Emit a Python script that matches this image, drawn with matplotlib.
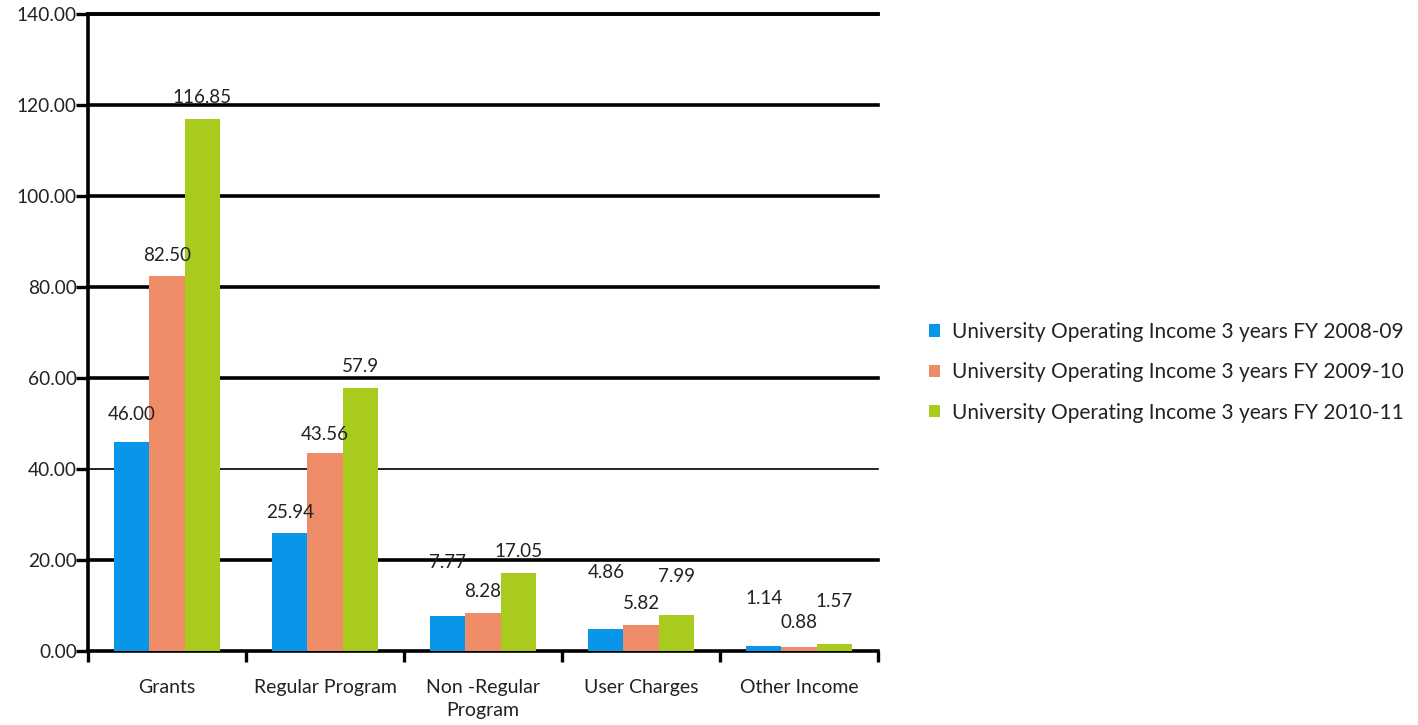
import matplotlib
matplotlib.use("Agg")
import matplotlib.pyplot as plt
import numpy as np

categories = ["Grants", "Regular Program", "Non -Regular\nProgram", "User Charges", "Other Income"]
series_names = [
    "University Operating Income 3 years FY 2008-09",
    "University Operating Income 3 years FY 2009-10",
    "University Operating Income 3 years FY 2010-11",
]
fy2008_09 = [46.00, 25.94, 7.77, 4.86, 1.14]
fy2009_10 = [82.50, 43.56, 8.28, 5.82, 0.88]
fy2010_11 = [116.85, 57.9, 17.05, 7.99, 1.57]
label_text_2008_09 = ["46.00", "25.94", "7.77", "4.86", "1.14"]
label_text_2009_10 = ["82.50", "43.56", "8.28", "5.82", "0.88"]
label_text_2010_11 = ["116.85", "57.9", "17.05", "7.99", "1.57"]
y_ticks = [0, 20, 40, 60, 80, 100, 120, 140]

# style: label vertical lift (data units) as in the original layout
lift_2008_09 = [5.9, 4.6, 11.6, 12.3, 10.5]
lift_2009_10 = [4.5, 4.1, 4.9, 4.7, 5.3]
lift_2010_11 = [4.9, 4.7, 4.9, 8.3, 9.2]

colors = ["#0A96E8", "#EE8C68", "#A9CB1E"]
FONT = ["Lato", "DejaVu Sans"]
plt.rcParams["font.family"] = FONT

fig = plt.figure(figsize=(14.18, 7.25), dpi=100)
ax = fig.add_axes([88 / 1418, 1 - 651 / 725, (878 - 88) / 1418, (651 - 14) / 725])

x = np.arange(len(categories))
w = 0.222
all_vals = [fy2008_09, fy2009_10, fy2010_11]
all_text = [label_text_2008_09, label_text_2009_10, label_text_2010_11]
all_lift = [lift_2008_09, lift_2009_10, lift_2010_11]
for i, (vals, txt, lift) in enumerate(zip(all_vals, all_text, all_lift)):
    xs = x + (i - 1) * w
    ax.bar(xs, vals, width=w, color=colors[i], label=series_names[i], zorder=3)
    for xi, v, t, l in zip(xs, vals, txt, lift):
        ax.text(xi, v + l, t, ha="center", va="center", fontsize=13.5,
                color="#222222", zorder=4)

ax.set_xlim(-0.5, len(categories) - 0.5)
ax.set_ylim(0, 140)
ax.set_yticks(y_ticks)
ax.set_yticklabels([f"{t:.2f}" for t in y_ticks], fontsize=13.8, color="#222222")
for t in y_ticks[1:]:
    lw = 1.2 if t == 40 else 2.6
    ax.axhline(t, color="black", lw=lw, zorder=1, clip_on=False)
ax.set_xticks(x)
ax.set_xticklabels(categories, fontsize=14, color="#222222", linespacing=1.45)
ax.tick_params(axis="x", length=0, pad=20)
ax.set_xticks(np.arange(len(categories) + 1) - 0.5, minor=True)
ax.tick_params(axis="x", which="minor", length=8, width=2.4, color="black", direction="out")
ax.tick_params(axis="y", length=9, width=2.4, color="black", pad=-1)

for s in ["top", "right"]:
    ax.spines[s].set_visible(False)
ax.spines["left"].set_linewidth(2.6)
ax.spines["bottom"].set_linewidth(2.6)
ax.spines["top"].set_visible(True)
ax.spines["top"].set_linewidth(2.6)

leg = fig.legend(loc="upper left", bbox_to_anchor=(910 / 1418, 1 - 303 / 725),
                 frameon=False, fontsize=15, handlelength=0.55, handleheight=0.55,
                 handletextpad=0.55, labelspacing=0.98)
for t in leg.get_texts():
    t.set_color("#222222")

fig.savefig("out.png", dpi=100)
